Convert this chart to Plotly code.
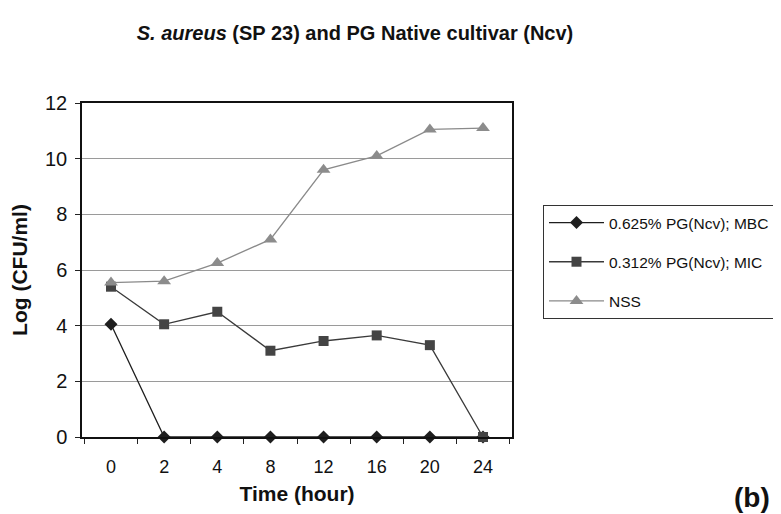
import plotly.graph_objects as go

time_labels = ["0", "2", "4", "8", "12", "16", "20", "24"]
mbc = [4.05, 0, 0, 0, 0, 0, 0, 0]
mic = [5.4, 4.05, 4.5, 3.1, 3.45, 3.65, 3.3, 0]
nss = [5.55, 5.6, 6.25, 7.1, 9.6, 10.1, 11.05, 11.1]
series_names = ["0.625% PG(Ncv); MBC", "0.312% PG(Ncv); MIC", "NSS"]

FONT = "Liberation Sans, Arial, sans-serif"

# the page body adds an 8px margin, so the figure is 8px smaller and shifted
W, H = 773, 506
L, R, T, B = 74, 504, 95, 429  # plot area in figure pixels
PAD = "\u00a0"

fig = go.Figure()
fig.add_trace(go.Scatter(x=time_labels, y=mbc, name=series_names[0] + PAD,
                         mode="lines+markers", legendgroup="a",
                         line=dict(color="#1e1e1e", width=1.3),
                         marker=dict(symbol="diamond", size=10, color="#1e1e1e"),
                         cliponaxis=False))
fig.add_trace(go.Scatter(x=time_labels, y=mic, name=series_names[1],
                         mode="lines+markers", legendgroup="b",
                         line=dict(color="#3a3a3a", width=1.3),
                         marker=dict(symbol="square", size=10, color="#444444"),
                         cliponaxis=False))
fig.add_trace(go.Scatter(x=time_labels, y=nss, name=series_names[2],
                         mode="lines+markers", legendgroup="c",
                         line=dict(color="#8a8a8a", width=1.3),
                         marker=dict(symbol="triangle-up", size=12, color="#8c8c8c"),
                         cliponaxis=False))

fig.update_layout(
    width=W, height=H,
    margin=dict(l=L, r=W - R, t=T, b=H - B, autoexpand=False),
    paper_bgcolor="white", plot_bgcolor="white",
    font=dict(family=FONT, color="#111"),
    title=dict(text="<b><i>S. aureus</i> (SP 23) and PG Native cultivar (Ncv)</b>",
               x=347 / W, xanchor="center", y=1 - 25 / H, yanchor="middle",
               yref="container", font=dict(size=20, family=FONT)),
    xaxis=dict(type="category", tickson="boundaries", ticks="outside", ticklen=5,
               tickcolor="#222", showline=True, linecolor="#111", linewidth=2,
               mirror=True, showgrid=False, tickfont=dict(size=18), automargin=False,
               ticklabelstandoff=12,
               title=dict(text="<b>Time (hour)</b>", font=dict(size=21), standoff=11)),
    yaxis=dict(range=[0, 12], dtick=2, ticks="outside", ticklen=5, tickcolor="#222",
               showline=True, linecolor="#111", linewidth=1.5, mirror=True,
               showgrid=True, gridcolor="#9a9a9a", gridwidth=1, zeroline=False,
               tickfont=dict(size=20), automargin=False, ticklabelstandoff=4,
               title=dict(text="<b>Log (CFU/ml)</b>", font=dict(size=21), standoff=16)),
    legend=dict(x=(535 - L) / (R - L), xanchor="left", y=(B - 197) / (B - T), yanchor="top",
                bordercolor="#333", borderwidth=1, bgcolor="white",
                font=dict(size=15.5, family=FONT), tracegroupgap=16,
                itemwidth=55),
    showlegend=True,
)

fig.add_annotation(text="<b>(b)</b>", xref="paper", yref="paper",
                   x=(744 - L) / (R - L), y=-(489 - B) / (B - T),
                   xanchor="center", yanchor="middle", showarrow=False,
                   font=dict(size=28, family=FONT, color="#111"))

fig.write_html("out.html")
